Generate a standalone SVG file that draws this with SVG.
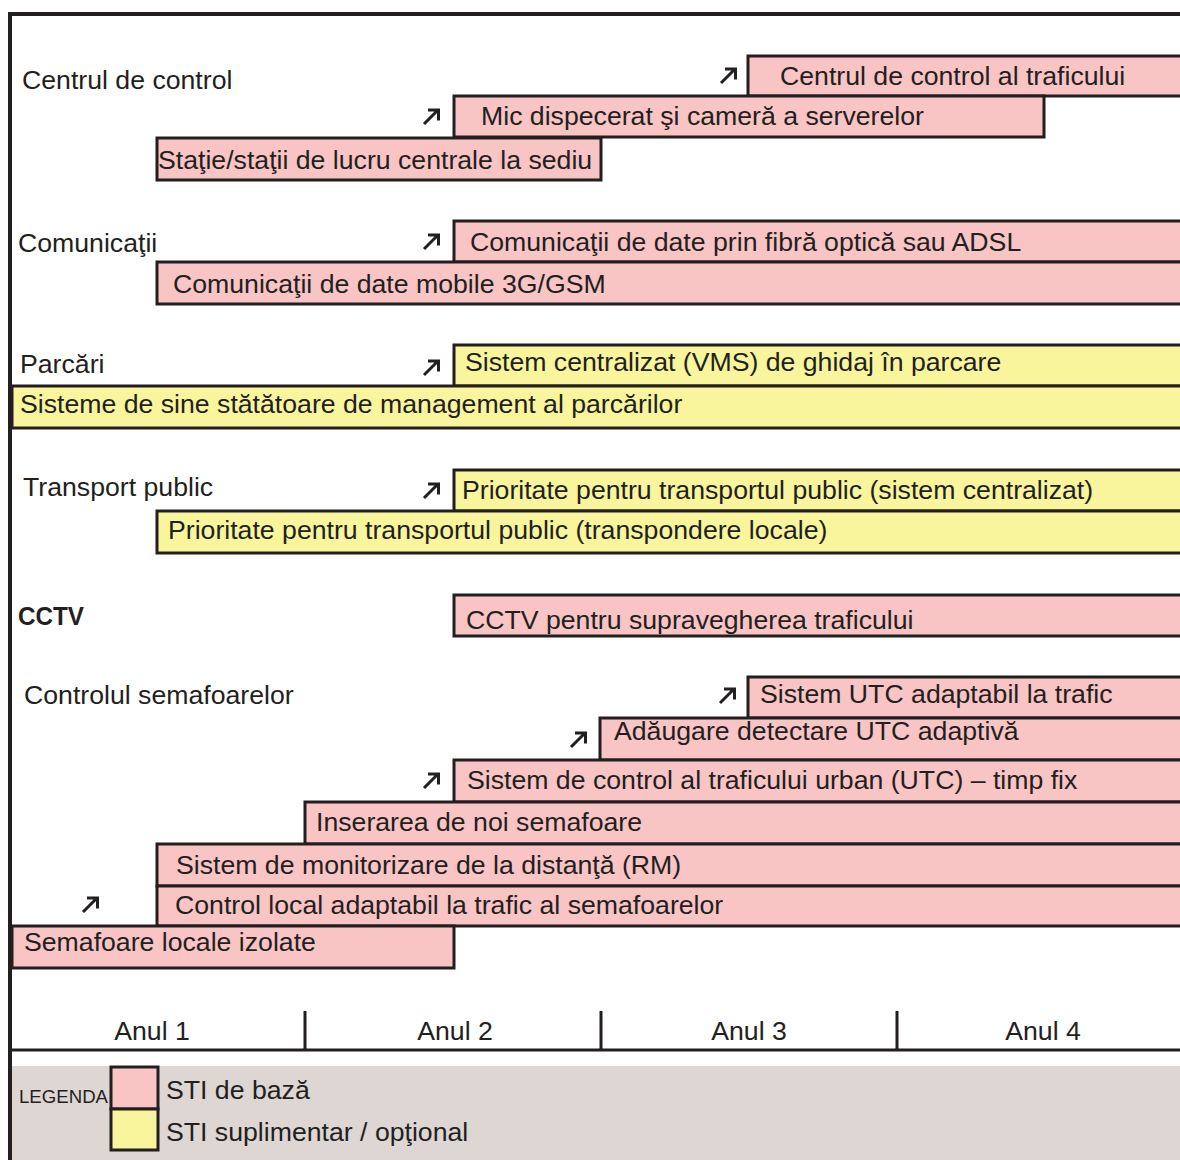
<svg xmlns="http://www.w3.org/2000/svg" xmlns:xlink="http://www.w3.org/1999/xlink" width="1180" height="1160" viewBox="0 0 1180 1160">
<style>
text{font-family:"Liberation Sans",Arial,sans-serif;font-size:26.67px;fill:#231f20}
.base{fill:#f8c4c4;stroke:#231f20;stroke-width:3}
.opt{fill:#f9f59d;stroke:#231f20;stroke-width:3}
.frame{stroke:#231f20;stroke-width:4;fill:none}
.axis{stroke:#231f20;stroke-width:3;fill:none}
.arr{stroke:#231f20;stroke-width:3;fill:none;stroke-linejoin:miter}
.bold{font-weight:bold;font-size:25px}
.small{font-size:18px}
</style>
<defs>
<g id="arrow"><path class="arr" d="M-7,7 L7,-7 M-3,-7 L7.5,-7 L7.5,3.5"/></g>
</defs>
<rect x="0" y="0" width="1180" height="1160" fill="#ffffff"/>

<g id="legend-bg"><rect x="12" y="1066" width="1170" height="96" fill="#ddd6d2"/></g>

<g id="frame">
<line class="frame" x1="10" y1="12" x2="10" y2="1160"/>
<line class="frame" x1="8" y1="14" x2="1180" y2="14"/>
</g>

<g id="categories">
<text x="22" y="89">Centrul de control</text>
<text x="18" y="252">Comunicaţii</text>
<text x="20" y="373">Parcări</text>
<text x="23" y="496">Transport public</text>
<text x="18" y="625" class="bold" textLength="66" lengthAdjust="spacingAndGlyphs">CCTV</text>
<text x="24" y="704">Controlul semafoarelor</text>
</g>

<g id="n1"><rect class="base" x="748" y="56" width="440" height="40"/><text x="780" y="85">Centrul de control al traficului</text></g>
<g id="n2"><rect class="base" x="454" y="96" width="590" height="41"/><text x="481" y="125">Mic dispecerat şi cameră a serverelor</text></g>
<g id="n3"><rect class="base" x="157" y="138" width="444" height="42"/><text x="158" y="169">Staţie/staţii de lucru centrale la sediu</text></g>

<g id="n4"><rect class="base" x="454" y="221" width="734" height="41"/><text x="470" y="251">Comunicaţii de date prin fibră optică sau ADSL</text></g>
<g id="n5"><rect class="base" x="157" y="262" width="1031" height="42"/><text x="173" y="293">Comunicaţii de date mobile 3G/GSM</text></g>

<g id="n6"><rect class="opt" x="454" y="345" width="734" height="41"/><text x="465" y="371">Sistem centralizat (VMS) de ghidaj în parcare</text></g>
<g id="n7"><rect class="opt" x="12" y="386" width="1176" height="42"/><text x="20" y="413">Sisteme de sine stătătoare de management al parcărilor</text></g>

<g id="n8"><rect class="opt" x="454" y="470" width="734" height="41"/><text x="462" y="499">Prioritate pentru transportul public (sistem centralizat)</text></g>
<g id="n9"><rect class="opt" x="157" y="511" width="1031" height="42"/><text x="168" y="539">Prioritate pentru transportul public (transpondere locale)</text></g>

<g id="n10"><rect class="base" x="454" y="595" width="734" height="41"/><text x="466" y="629">CCTV pentru supravegherea traficului</text></g>

<g id="n11"><rect class="base" x="748" y="677" width="440" height="41"/><text x="760" y="703">Sistem UTC adaptabil la trafic</text></g>
<g id="n12"><rect class="base" x="600" y="718" width="588" height="42"/><text x="614" y="740">Adăugare detectare UTC adaptivă</text></g>
<g id="n13"><rect class="base" x="454" y="760" width="734" height="42"/><text x="467" y="789">Sistem de control al traficului urban (UTC) – timp fix</text></g>
<g id="n14"><rect class="base" x="305" y="802" width="883" height="42"/><text x="316" y="831">Inserarea de noi semafoare</text></g>
<g id="n15"><rect class="base" x="157" y="844" width="1031" height="42"/><text x="176" y="874">Sistem de monitorizare de la distanţă (RM)</text></g>
<g id="n16"><rect class="base" x="157" y="886" width="1031" height="40"/><text x="175" y="914">Control local adaptabil la trafic al semafoarelor</text></g>
<g id="n17"><rect class="base" x="12" y="926" width="442" height="42"/><text x="24" y="951">Semafoare locale izolate</text></g>

<g id="connectors">
<use xlink:href="#arrow" x="728" y="76"/>
<use xlink:href="#arrow" x="431" y="117"/>
<use xlink:href="#arrow" x="431" y="242"/>
<use xlink:href="#arrow" x="431" y="368"/>
<use xlink:href="#arrow" x="431" y="491"/>
<use xlink:href="#arrow" x="727" y="696"/>
<use xlink:href="#arrow" x="578" y="740"/>
<use xlink:href="#arrow" x="431" y="781"/>
<use xlink:href="#arrow" x="90" y="905"/>
</g>

<g id="timeline">
<line class="axis" x1="12" y1="1050" x2="1180" y2="1050"/>
<line class="axis" x1="305" y1="1011" x2="305" y2="1050"/>
<line class="axis" x1="601" y1="1011" x2="601" y2="1050"/>
<line class="axis" x1="897" y1="1011" x2="897" y2="1050"/>
<text x="152" y="1040" text-anchor="middle">Anul 1</text>
<text x="455" y="1040" text-anchor="middle">Anul 2</text>
<text x="749" y="1040" text-anchor="middle">Anul 3</text>
<text x="1043" y="1040" text-anchor="middle">Anul 4</text>
</g>

<g id="legend">
<text x="19" y="1103" class="small" textLength="89" lengthAdjust="spacingAndGlyphs">LEGENDA</text>
<rect class="base" x="111" y="1067" width="47" height="42"/>
<rect class="opt" x="111" y="1109" width="47" height="41"/>
<text x="166" y="1099">STI de bază</text>
<text x="166" y="1141">STI suplimentar / opţional</text>
</g>
</svg>
